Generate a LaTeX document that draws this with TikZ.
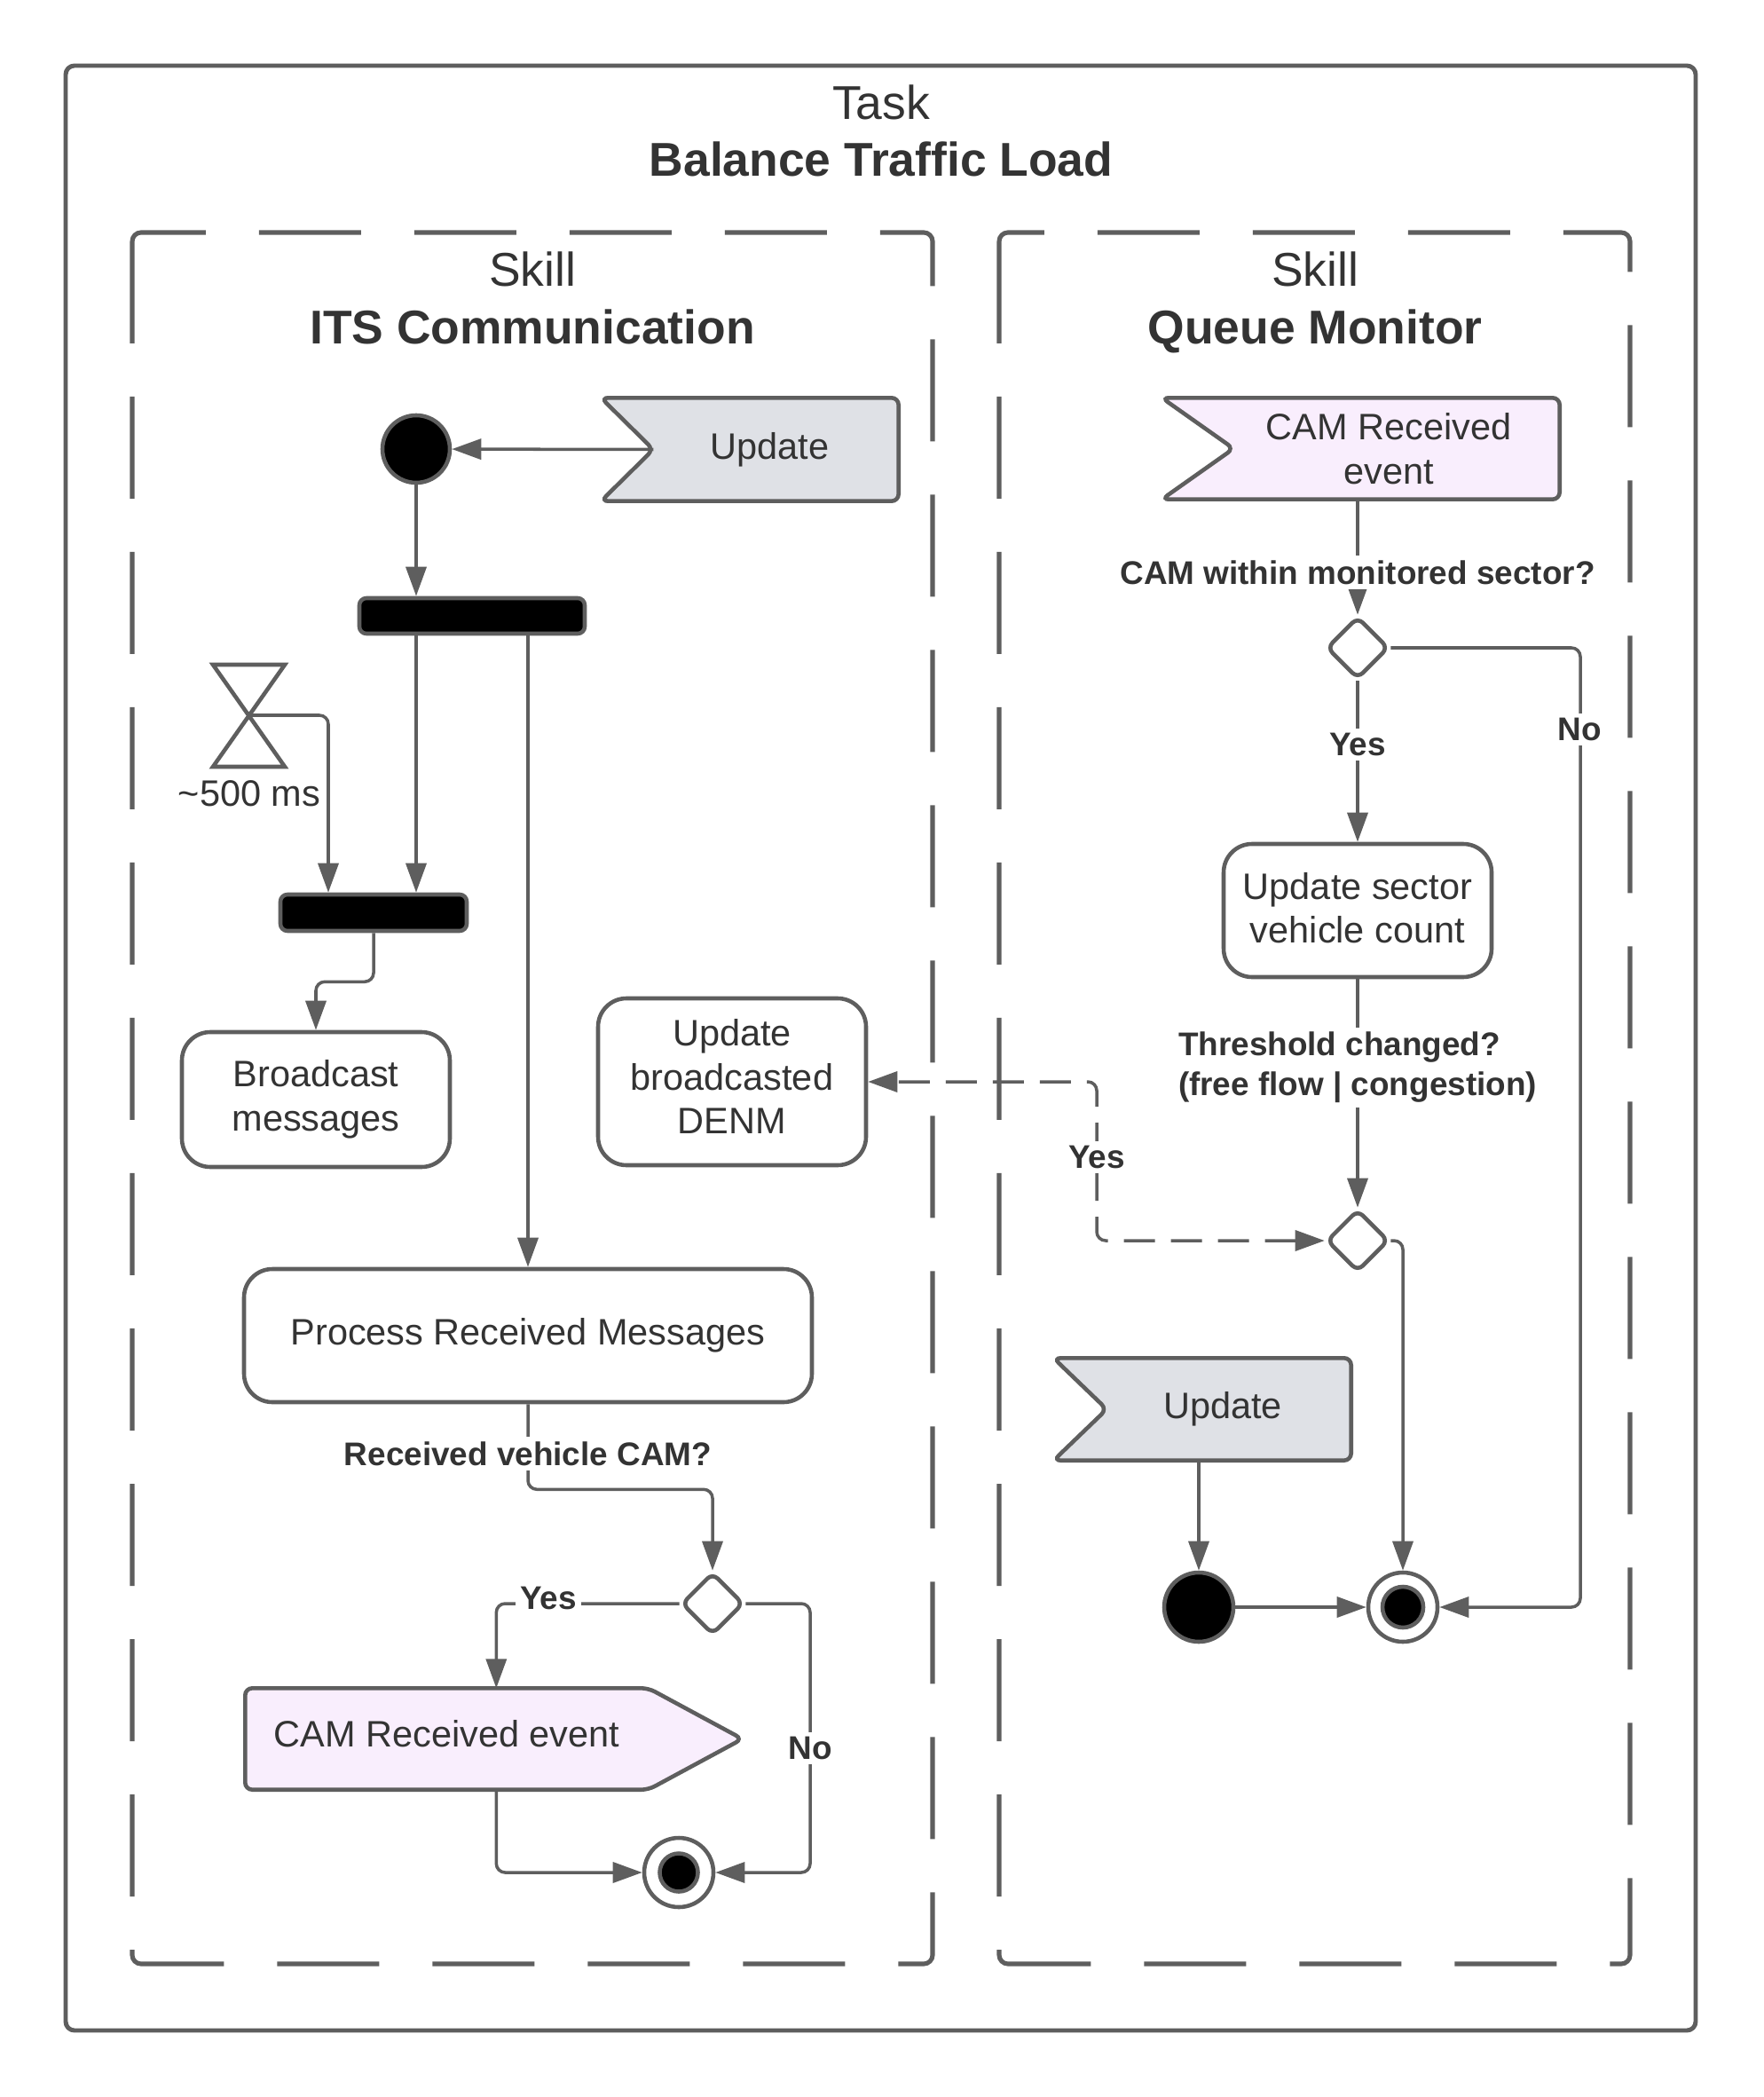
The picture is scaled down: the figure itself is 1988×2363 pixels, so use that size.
\documentclass[tikz,border=0pt]{standalone}
\usepackage{fontspec}
\setmainfont{Liberation Sans}
\usetikzlibrary{arrows.meta,shapes.geometric,calc}
\definecolor{lc}{HTML}{5E5E5E}
\definecolor{tc}{HTML}{333333}
\definecolor{evgray}{HTML}{DFE1E6}
\definecolor{evpink}{HTML}{F9EEFD}
\newcommand\fnorm{\fontsize{11.8pt}{14.2pt}\selectfont}
\newcommand\flbl{\fontsize{10.5pt}{12.8pt}\selectfont\bfseries}
\newcommand\ftitle{\fontsize{15.2pt}{18.3pt}\selectfont}
\newcommand\dpt[1]{\rule[-#1]{0pt}{0pt}}
\pgfdeclarelayer{bg}
\pgfsetlayers{bg,main}
\begin{document}
\begin{tikzpicture}[x=0.1mm,y=-0.1mm,
  every node/.style={text=tc},
  ttl/.style={font=\ftitle, text depth=0pt},
  conn/.style={draw=lc, line width=1pt, rounded corners=1mm, -{Triangle[length=3.3mm,width=2.3mm]}},
  act/.style={draw=lc, line width=1.3pt, rounded corners=3.2mm, fill=white, align=center, font=\fnorm, inner sep=0pt},
  bar/.style={draw=lc, line width=1.3pt, fill=black, rounded corners=0.8mm, inner sep=0pt},
  dec/.style={diamond, draw=lc, line width=1.3pt, fill=white, minimum width=7mm, minimum height=7mm, inner sep=0pt, rounded corners=0.8mm},
  startn/.style={circle, draw=lc, line width=1.3pt, fill=black, minimum size=7.6mm, inner sep=0pt},
  endo/.style={circle, draw=lc, line width=1.3pt, fill=white, minimum size=7.8mm, inner sep=0pt},
  endi/.style={circle, draw=lc, line width=1.3pt, fill=black, minimum size=4.3mm, inner sep=0pt},
  evbox/.style={inner sep=0pt, font=\fnorm, align=center},
  evshape/.style={draw=lc, line width=1.3pt, rounded corners=0.8mm},
  lbl/.style={fill=white, font=\flbl, inner sep=1.5pt, align=left},
  lane/.style={draw=lc, line width=1.45pt, rounded corners=1mm, dash pattern=on 11.5mm off 6mm},
]
\useasboundingbox (0,0) rectangle (1988,2363);

% frames
\draw[draw=lc, line width=1.4pt, rounded corners=1mm] (74,74) rectangle (1911,2288);
\draw[lane] (149,262) rectangle (1051,2213);
\draw[lane] (1126,262) rectangle (1837,2213);

\node[ttl] (task) at (993,115) {Task};
\node[ttl, font=\ftitle\bfseries] (btl) at (993,179) {Balance Traffic Load};
\node[ttl] (sk1) at (600,303) {Skill};
\node[ttl, font=\ftitle\bfseries] (its) at (600,368) {ITS Communication};
\node[ttl] (sk2) at (1482,303) {Skill};
\node[ttl, font=\ftitle\bfseries] (qm) at (1482,368) {Queue Monitor};

% left lane nodes
\node[evbox, minimum width=27.5mm, minimum height=11.5mm] (upd1) at (874.5,506.5) {Update\hspace*{1.4mm}\dpt{0.6mm}};
\node[startn] (s1) at (469,506) {};
\node[bar, minimum width=25.4mm, minimum height=4mm] (b1) at (532,694) {};
\node[bar, minimum width=21mm, minimum height=4.1mm] (b2) at (421,1028.5) {};
\coordinate (hg) at (280,806);
\node[font=\fnorm] (hl) at (281,894) {\textasciitilde500 ms};
\node[act, minimum width=30.2mm, minimum height=15.2mm] (bm) at (356,1239) {Broadcast\\messages\dpt{0.3mm}};
\node[act, minimum width=30.2mm, minimum height=18.8mm] (dm) at (825,1219) {Update\\broadcasted\\DENM\dpt{1.2mm}};
\node[act, minimum width=64mm, minimum height=15mm] (pm) at (595,1505) {Process Received Messages};
\node[dec] (d1) at (803,1807) {};
\node[evbox, minimum width=45.3mm, minimum height=11.3mm] (cs) at (503.5,1959.5) {CAM Received event\dpt{1.2mm}};
\node[endo] (f1o) at (765,2110) {};
\node[endi] (f1i) at (765,2110) {};

% right lane nodes
\node[evbox, minimum width=36.6mm, minimum height=11.3mm] (camr) at (1574,505.5) {CAM Received\hspace*{1.8mm}\\event\hspace*{1.8mm}};
\node[dec] (d2) at (1530,730) {};
\node[act, minimum width=30.2mm, minimum height=15mm] (us) at (1530,1026) {Update sector\\vehicle count\dpt{0.6mm}};
\node[dec] (d3) at (1530,1398) {};
\node[evbox, minimum width=27.4mm, minimum height=11.4mm] (upd2) at (1385,1588) {Update\hspace*{1.4mm}\dpt{0.4mm}};
\node[startn, minimum size=7.8mm] (s2) at (1351,1811) {};
\node[endo] (f2o) at (1581,1811) {};
\node[endi, minimum size=4.6mm] (f2i) at (1581,1811) {};

% background and event shapes
\begin{pgfonlayer}{bg}
\fill[white] (0,0) rectangle (1988,2363);
\draw[evshape, fill=evgray] ($(upd1.north west)+(-59,0)$) -- (upd1.north east) -- (upd1.south east) -- ($(upd1.south west)+(-59,0)$) -- (upd1.west) -- cycle;
\draw[evshape, fill=evpink] ($(camr.north west)+(-81,0)$) -- (camr.north east) -- (camr.south east) -- ($(camr.south west)+(-81,0)$) -- (camr.west) -- cycle;
\draw[evshape, fill=evgray] ($(upd2.north west)+(-60,0)$) -- (upd2.north east) -- (upd2.south east) -- ($(upd2.south west)+(-60,0)$) -- (upd2.west) -- cycle;
\draw[evshape, fill=evpink] (cs.north west) -- (cs.north east) -- ($(cs.east)+(106,0)$) -- (cs.south east) -- (cs.south west) -- cycle;
\end{pgfonlayer}

% hourglass
\draw[draw=lc, line width=1.3pt, line join=miter] (240,749) -- (321,749) -- (240,864) -- (321,864) -- cycle;

% connectors left
\draw[conn] (upd1.west) -- (s1);
\draw[conn] (s1) -- (s1 |- b1.north);
\draw[conn] (s1 |- b1.south) -- (s1 |- b2.north);
\coordinate (hgx) at (370,806);
\draw[conn] (hg) -- (hgx) -- (hgx |- b2.north);
\draw[conn] (b2.south) -- ++(0,55) -| (bm.north);
\draw[conn] (b1.south -| pm.north) -- (pm.north);
\draw[conn] (pm.south) -- ++(0,96) -| (d1.north);
\draw[conn] (d1.west) -| ($(cs.north west)+(283,0)$);
\coordinate (nx1) at (913,1807);
\draw[conn] (d1.east) -- (nx1) |- (f1o.east);
\draw[conn] ($(cs.south west)+(283,0)$) |- (f1o.west);

% connectors right
\draw[conn] (d2 |- camr.south) -- (d2.north);
\draw[conn] (d2.south) -- (us.north);
\coordinate (nx2) at (1781,730);
\draw[conn] (d2.east) -- (nx2) |- (f2o.east);
\draw[conn] (us.south) -- (d3.north);
\coordinate (yx) at (1236,1398);
\draw[conn, {Triangle[length=3.3mm,width=2.3mm]}-{Triangle[length=3.3mm,width=2.3mm]}, dash pattern=on 3.5mm off 1.8mm] (d3.west) -- (yx) |- (dm.east);
\draw[conn] (d3.east) -| (f2o.north);
\draw[conn] (s2 |- upd2.south) -- (s2.north);
\draw[conn] (s2) -- (f2o);

% labels
\node[lbl] (l1) at (595,1638) {Received vehicle CAM?};
\node[lbl] (l2) at (618,1801) {Yes};
\node[lbl] (l3) at (913,1970) {No};
\node[lbl] (l4) at (1530,645) {CAM within monitored sector?};
\node[lbl] (l5) at (1530,839) {Yes};
\node[lbl] (l6) at (1780,822) {No};
\node[lbl] (l7) at (1530,1203) {Threshold changed?\\(free flow | congestion)};
\node[lbl] (l8) at (1236,1304) {Yes};
\end{tikzpicture}
\end{document}
